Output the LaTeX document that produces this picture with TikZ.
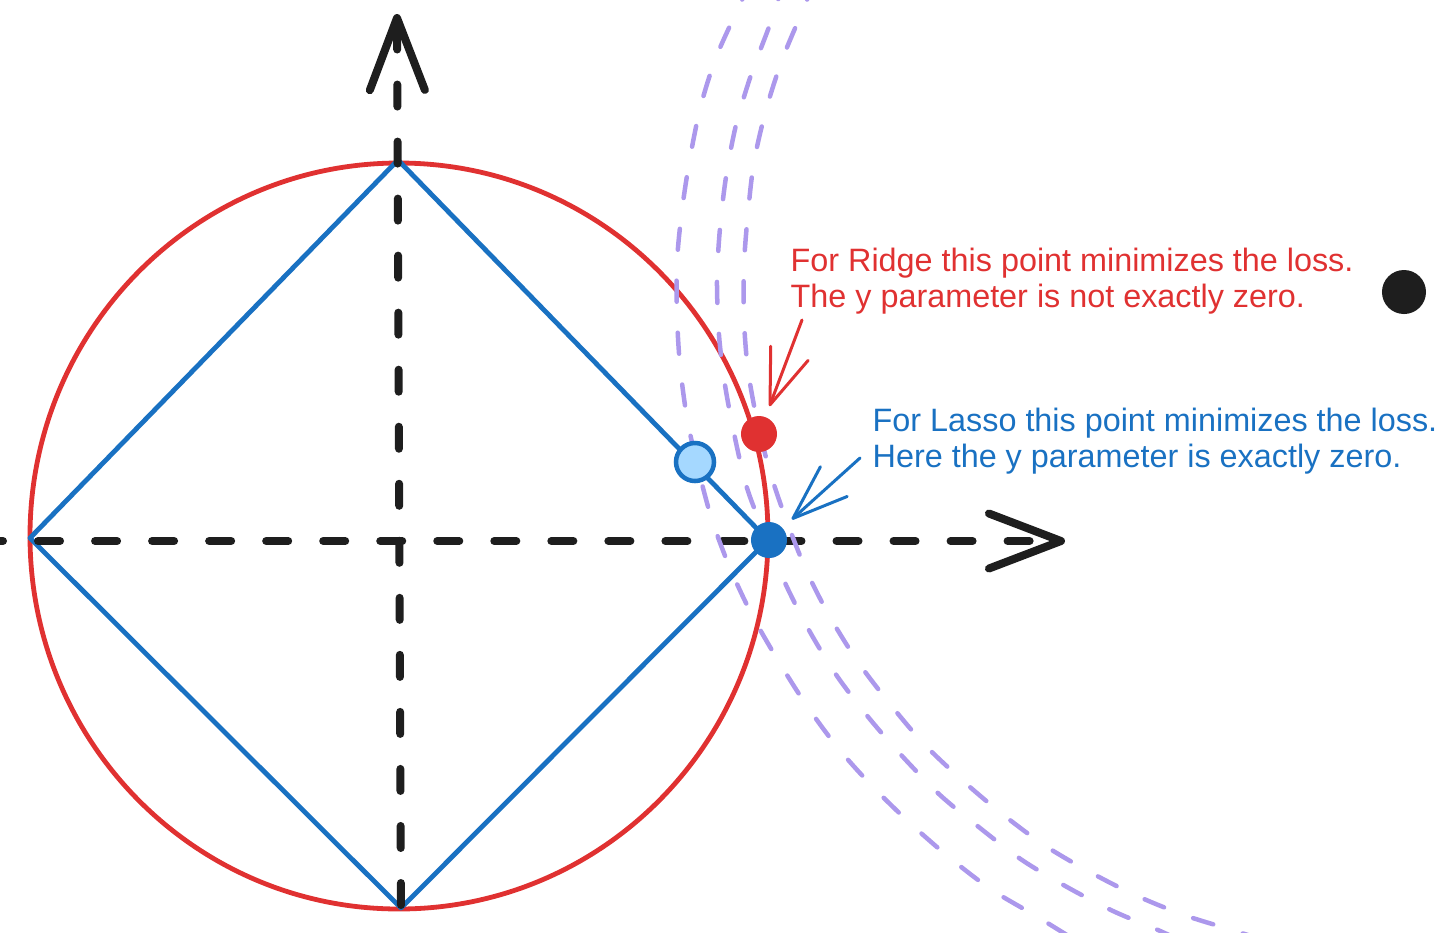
\documentclass[tikz,border=0pt]{standalone}
\usepackage{fontspec}
\setmainfont{Liberation Sans}
\usepackage{tikz}
\usetikzlibrary{arrows.meta}
\definecolor{ridge}{HTML}{E03131}
\definecolor{lasso}{HTML}{1971C2}
\definecolor{lassofill}{HTML}{A5D8FF}
\definecolor{loss}{RGB}{172,152,236}
\definecolor{ink}{HTML}{1E1E1E}

\begin{document}
\begin{tikzpicture}[x=0.01cm,y=-0.01cm]
\tikzset{dot/.style = {shape=circle,inner sep=0pt,minimum size=0.36cm}}
\tikzset{axis/.style = {draw=ink,line width=0.08cm,line cap=round,dash pattern=on 0.22cm off 0.35cm,-{Straight Barb[length=0.72cm,width=0.55cm,round]}}}
\tikzset{contour/.style = {draw=loss,line width=0.045cm,line cap=round,dash pattern=on 0.21cm off 0.31cm}}
\tikzset{edge/.style = {line width=0.03cm,line cap=round,-{Straight Barb[length=0.55cm,width=0.4cm,round]}}}
\tikzset{note/.style = {anchor=north west,inner sep=0pt,align=left,font=\fontsize{9.2}{10.4}\selectfont}}
\useasboundingbox (0,0) rectangle (1456,932);
% constraint regions
\draw[ridge,line width=0.048cm] (399,536) ellipse [x radius=369, y radius=373];
\coordinate (top) at (398,160);
\coordinate (right) at (768,540);
\coordinate (bottom) at (401,908);
\coordinate (left) at (30,538);
\draw[lasso,line width=0.048cm,line join=round] (top) -- (right) -- (bottom) -- (left) -- cycle;
% axes
\coordinate (xstart) at (-19,541);
\coordinate (xend) at (1065,541);
\coordinate (ystart) at (401,905);
\coordinate (yend) at (397,14);
\draw[axis] (xstart) -- (xend);
\draw[axis] (ystart) -- (yend);
% loss contours
\draw[contour] plot[smooth] coordinates {(750,-20) (742,0) (717,55) (701,105) (690,158) (682,210) (677,262) (677,315) (680,365) (687,418) (698,468) (712,520) (730,568) (752,615) (779,662) (807,706) (838,748) (873,787) (911,824) (950,858) (992,890) (1036,916) (1075,940)};
\draw[contour] plot[smooth] coordinates {(787,-20) (778,0) (769,27) (751,75) (736,125) (726,177) (720,228) (717,280) (719,335) (725,385) (735,438) (747,488) (765,535) (786,585) (810,632) (837,676) (869,718) (903,757) (940,795) (980,828) (1022,860) (1067,887) (1113,911) (1158,930) (1190,945)};
\draw[contour] plot[smooth] coordinates {(815,-20) (802,12) (782,60) (766,110) (754,162) (748,213) (744,265) (744,320) (748,370) (757,420) (770,472) (787,522) (807,572) (830,617) (858,662) (890,704) (924,744) (962,780) (1001,813) (1044,845) (1088,871) (1135,895) (1184,915) (1232,930) (1270,942)};
% points
\node[dot,draw=lasso,fill=lassofill,line width=0.045cm,minimum size=0.38cm] (hollow) at (695,462) {};
\node[dot,fill=ridge] (rdot) at (759,434) {};
\node[dot,fill=lasso] (bdot) at (769,540) {};
\node[dot,fill=ink,minimum size=0.44cm] (target) at (1404,292) {};
% notes
\node[note,text=ridge] (ridgenote) at (790,247) {For Ridge this point minimizes the loss.\\The y parameter is not exactly zero.};
\node[note,text=lasso] (lassonote) at (872,407) {For Lasso this point minimizes the loss.\\Here the y parameter is exactly zero.};
%edges
\coordinate (rtail) at (802,320);
\coordinate (btail) at (860,458);
\draw[edge,ridge,shorten >=0.11cm] (rtail) -- (rdot);
\draw[edge,lasso,shorten >=0.12cm] (btail) -- (bdot);
\end{tikzpicture}
\end{document}
